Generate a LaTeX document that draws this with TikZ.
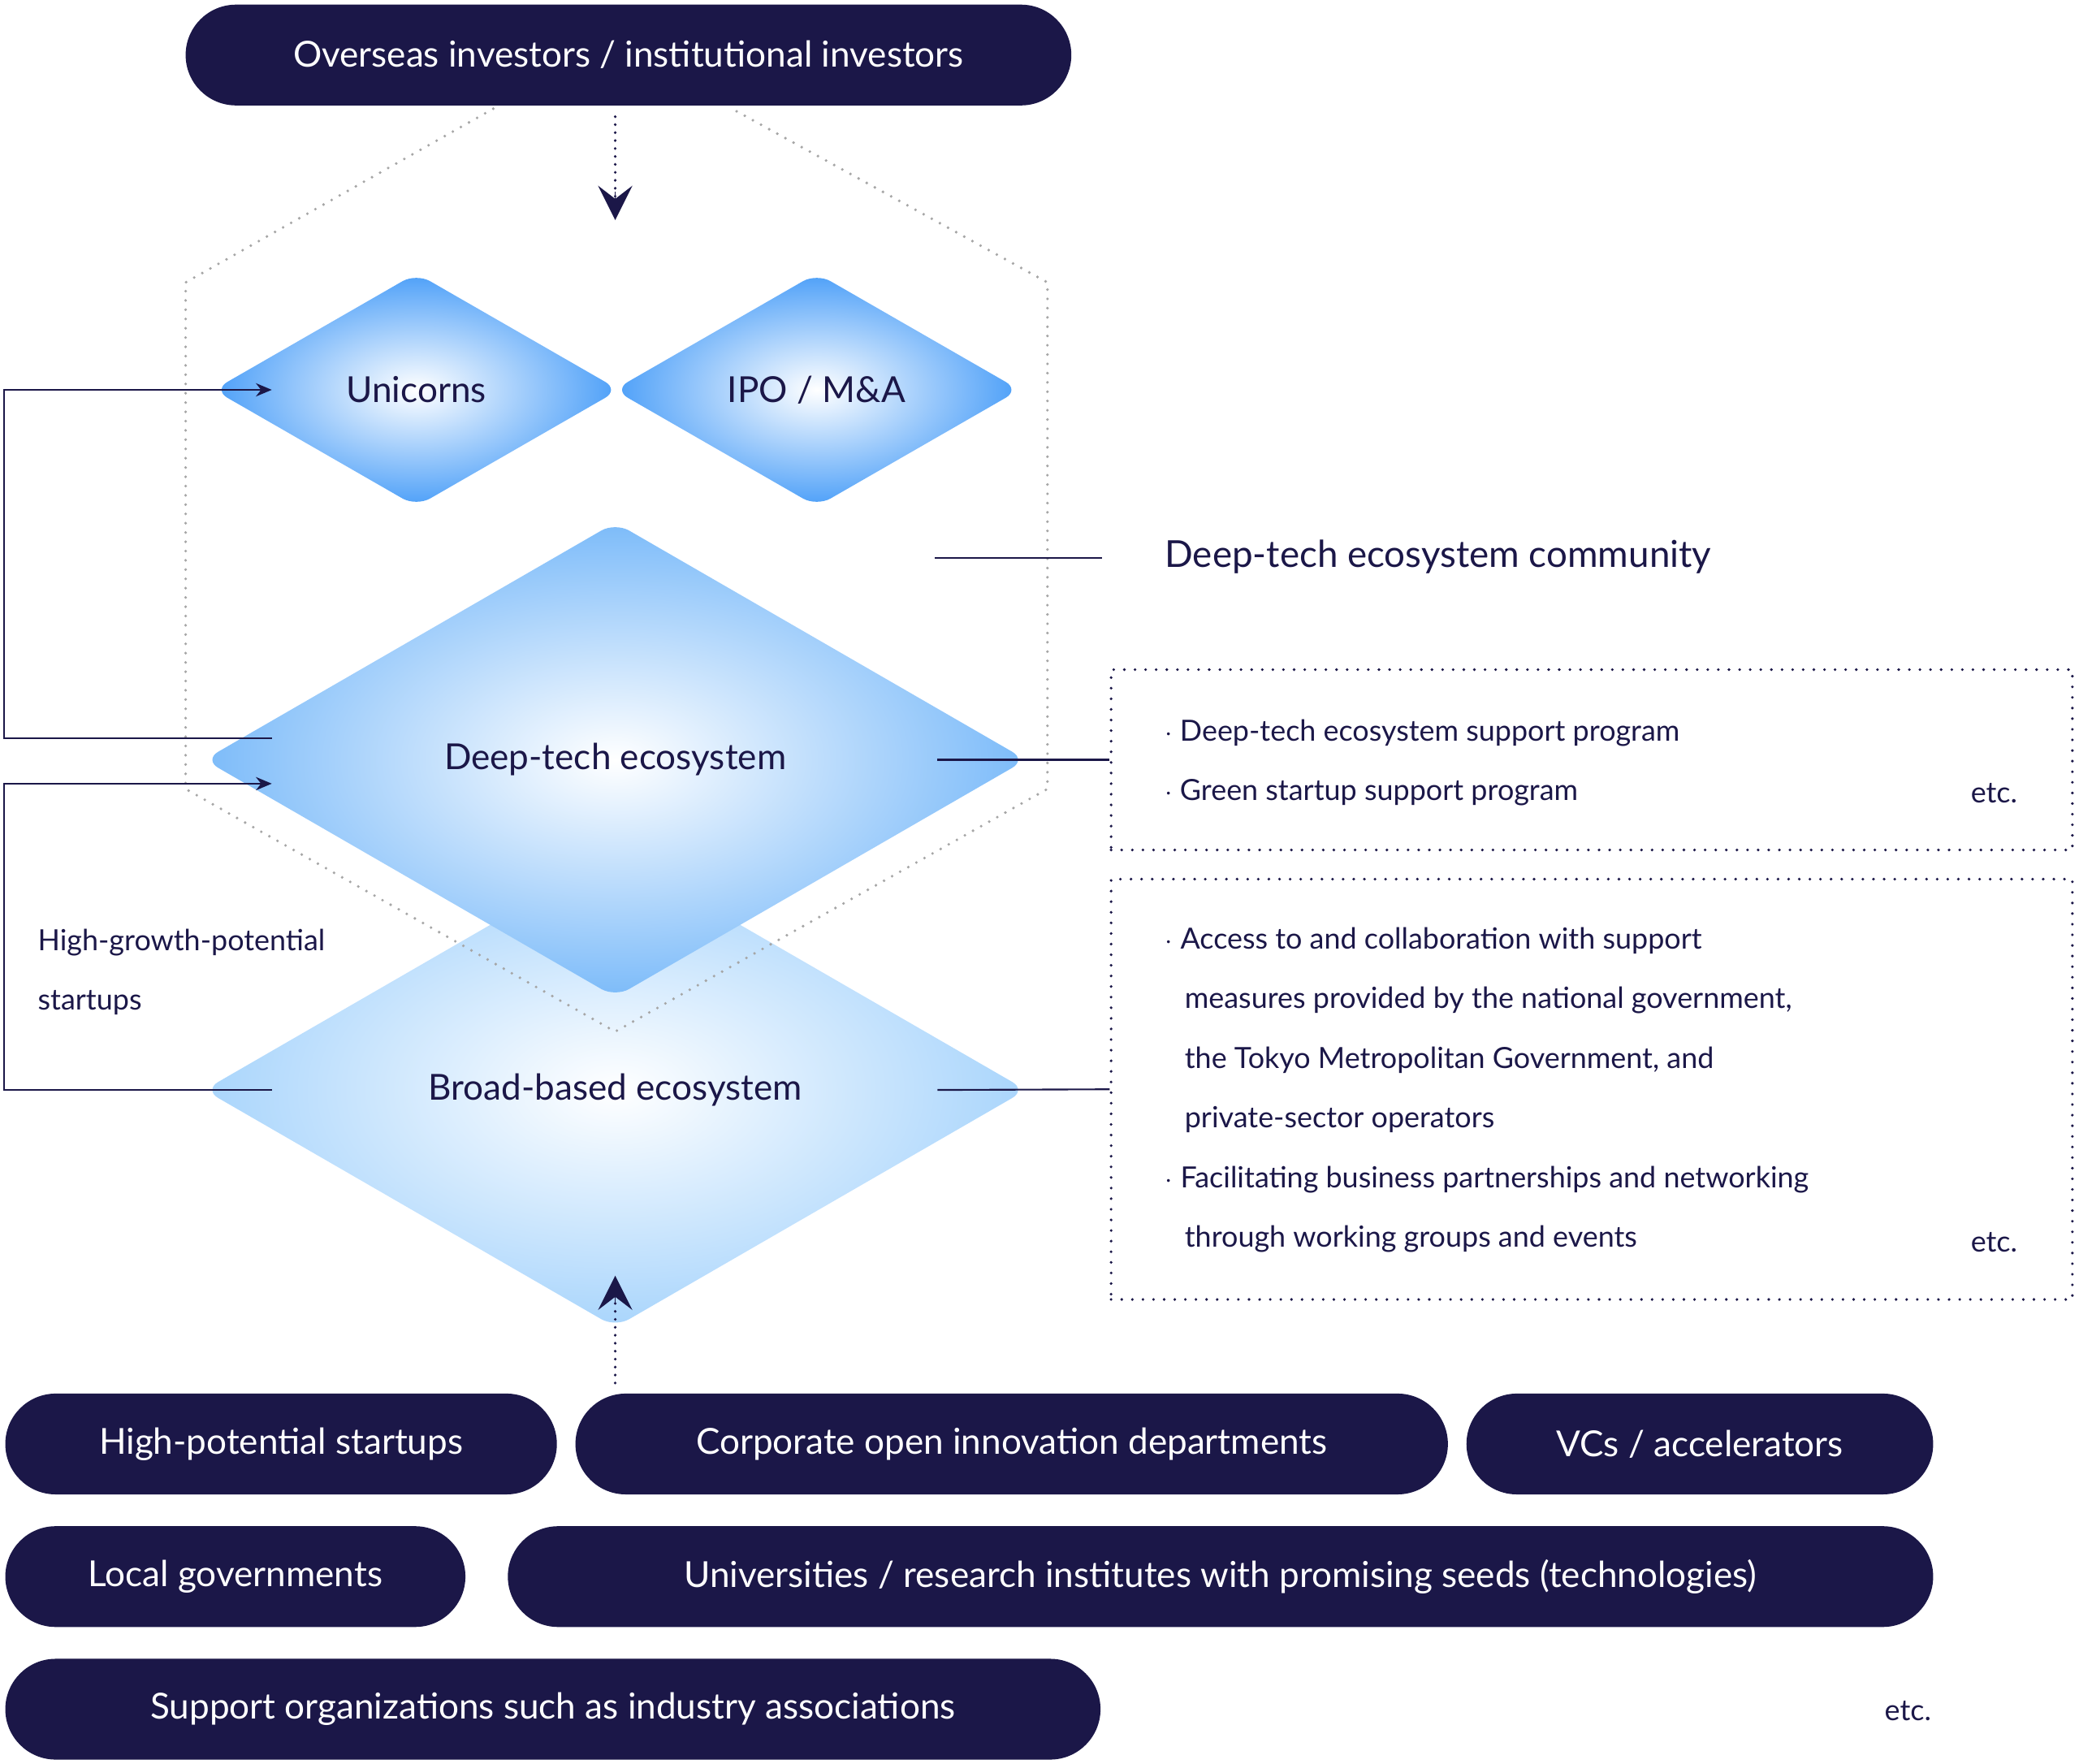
\documentclass[tikz,border=0pt]{standalone}
\usepackage{fontspec}
\setmainfont{Lato}
\usetikzlibrary{shapes.geometric,arrows.meta}
\definecolor{navy}{HTML}{1B1748}
\definecolor{bA}{HTML}{4C9FF8}
\definecolor{bB}{HTML}{7CBBF9}
\definecolor{bC}{HTML}{A9D5FC}
\begin{document}
\begin{tikzpicture}[x=1pt,y=-1pt,
 pill/.style={rounded corners=38pt,fill=navy,text=white,font=\fontsize{27}{30}\selectfont,inner sep=0pt},
 dia/.style={diamond,rounded corners=12pt,inner sep=0pt,text=navy,font=\fontsize{27}{30}\selectfont},
 hexdot/.style={draw=gray!70,line width=2.2pt,line cap=round,dash pattern=on 0pt off 7pt},
 boxdot/.style={draw=navy,line width=2.2pt,line cap=round,dash pattern=on 0pt off 8pt},
 ln/.style={draw=navy,line width=1.3pt},
 body/.style={text=navy,font=\fontsize{22}{45}\selectfont,anchor=west,align=left}]
\useasboundingbox (0,0) rectangle (1568,1330);
% diamonds
\node[dia,minimum width=620,minimum height=358,shade,inner color=white,outer color=bC] (broad) at (464,822) {Broad-based ecosystem};
\node[dia,minimum width=620,minimum height=358,shade,inner color=white,outer color=bB] (deep) at (464,573) {Deep-tech ecosystem};
\node[dia,minimum width=306,minimum height=176,shade,inner color=white,outer color=bA] (uni) at (314,294) {Unicorns};
\node[dia,minimum width=306,minimum height=176,shade,inner color=white,outer color=bA] (ipo) at (616,294) {IPO / M\&A};
% hexagon
\coordinate (h1) at (372,82); \coordinate (h2) at (140,213); \coordinate (h3) at (140,595);
\coordinate (h4) at (464,778); \coordinate (h5) at (790,595); \coordinate (h6) at (790,213); \coordinate (h7) at (552,82);
\draw[hexdot] (h1)--(h2)--(h3)--(h4)--(h5)--(h6)--(h7);
% top pill
\node[pill,minimum width=668,minimum height=76] (top) at (474,41.5) {Overseas investors / institutional investors};
\coordinate (ta) at (464,88); \coordinate (tb) at (464,166);
\draw[boxdot,dash pattern=on 0pt off 6pt] (ta)--(464,150);
\draw[navy,-{Stealth[length=26pt,width=26pt,inset=10pt]},line width=0pt] (464,145)--(tb);
% left connectors
\coordinate (l1) at (205,557); \coordinate (l1b) at (3,557); \coordinate (l1c) at (3,294); \coordinate (l1d) at (205,294);
\draw[ln,-{Stealth[length=12pt,width=10pt]}] (l1)--(l1b)--(l1c)--(l1d);
\coordinate (l2) at (205,822); \coordinate (l2b) at (3,822); \coordinate (l2c) at (3,591); \coordinate (l2d) at (205,591);
\draw[ln,-{Stealth[length=12pt,width=10pt]}] (l2)--(l2b)--(l2c)--(l2d);
\node[body,align=left] (hg) at (25,733) {High-growth-potential\\startups};
% right side
\coordinate (c1) at (705,421); \coordinate (c2) at (831,421);
\draw[ln] (c1)--(c2);
\node[text=navy,anchor=west,font=\fontsize{28}{30}\selectfont] (comm) at (875,420) {Deep-tech ecosystem community};
\node[boxdot,minimum width=725,minimum height=136,inner sep=0pt] (box1) at (1200.5,573) {};
\node[boxdot,minimum width=725,minimum height=317,inner sep=0pt] (box2) at (1200.5,821.5) {};
\coordinate (d1) at (707,573); \draw[ln] (d1)--(box1.west);
\coordinate (d2) at (707,822); \draw[ln] (d2)--(box2.west);
\node[body] (b1) at (875,575) {$\cdot$ Deep-tech ecosystem support program\\$\cdot$ Green startup support program};
\node[body,anchor=east] (e1) at (1525,598) {etc.};
\node[body] (b2) at (875,822) {$\cdot$\hspace{6pt}Access to and collaboration with support\\\hspace{15pt}measures provided by the national government,\\\hspace{15pt}the Tokyo Metropolitan Government, and\\\hspace{15pt}private-sector operators\\$\cdot$\hspace{6pt}Facilitating business partnerships and networking\\\hspace{15pt}through working groups and events};
\node[body,anchor=east] (e2) at (1525,937) {etc.};
% bottom arrow
\coordinate (ba) at (464,1043); \coordinate (bb) at (464,962);
\draw[boxdot,dash pattern=on 0pt off 6pt] (ba)--(464,980);
\draw[navy,-{Stealth[length=26pt,width=26pt,inset=10pt]},line width=0pt] (464,983)--(bb);
% bottom pills
\node[pill,minimum width=416,minimum height=76] (p1) at (212,1089) {High-potential startups};
\node[pill,minimum width=658,minimum height=76] (p2) at (763,1089) {Corporate open innovation departments};
\node[pill,minimum width=352,minimum height=76] (p3) at (1282,1089) {VCs / accelerators};
\node[pill,minimum width=347,minimum height=76] (p4) at (177.5,1189) {Local governments};
\node[pill,minimum width=1075,minimum height=76] (p5) at (920.5,1189) {Universities / research institutes with promising seeds (technologies)};
\node[pill,minimum width=826,minimum height=76] (p6) at (417,1289) {Support organizations such as industry associations};
\node[body,anchor=east] (e3) at (1460,1290) {etc.};
\end{tikzpicture}
\end{document}
